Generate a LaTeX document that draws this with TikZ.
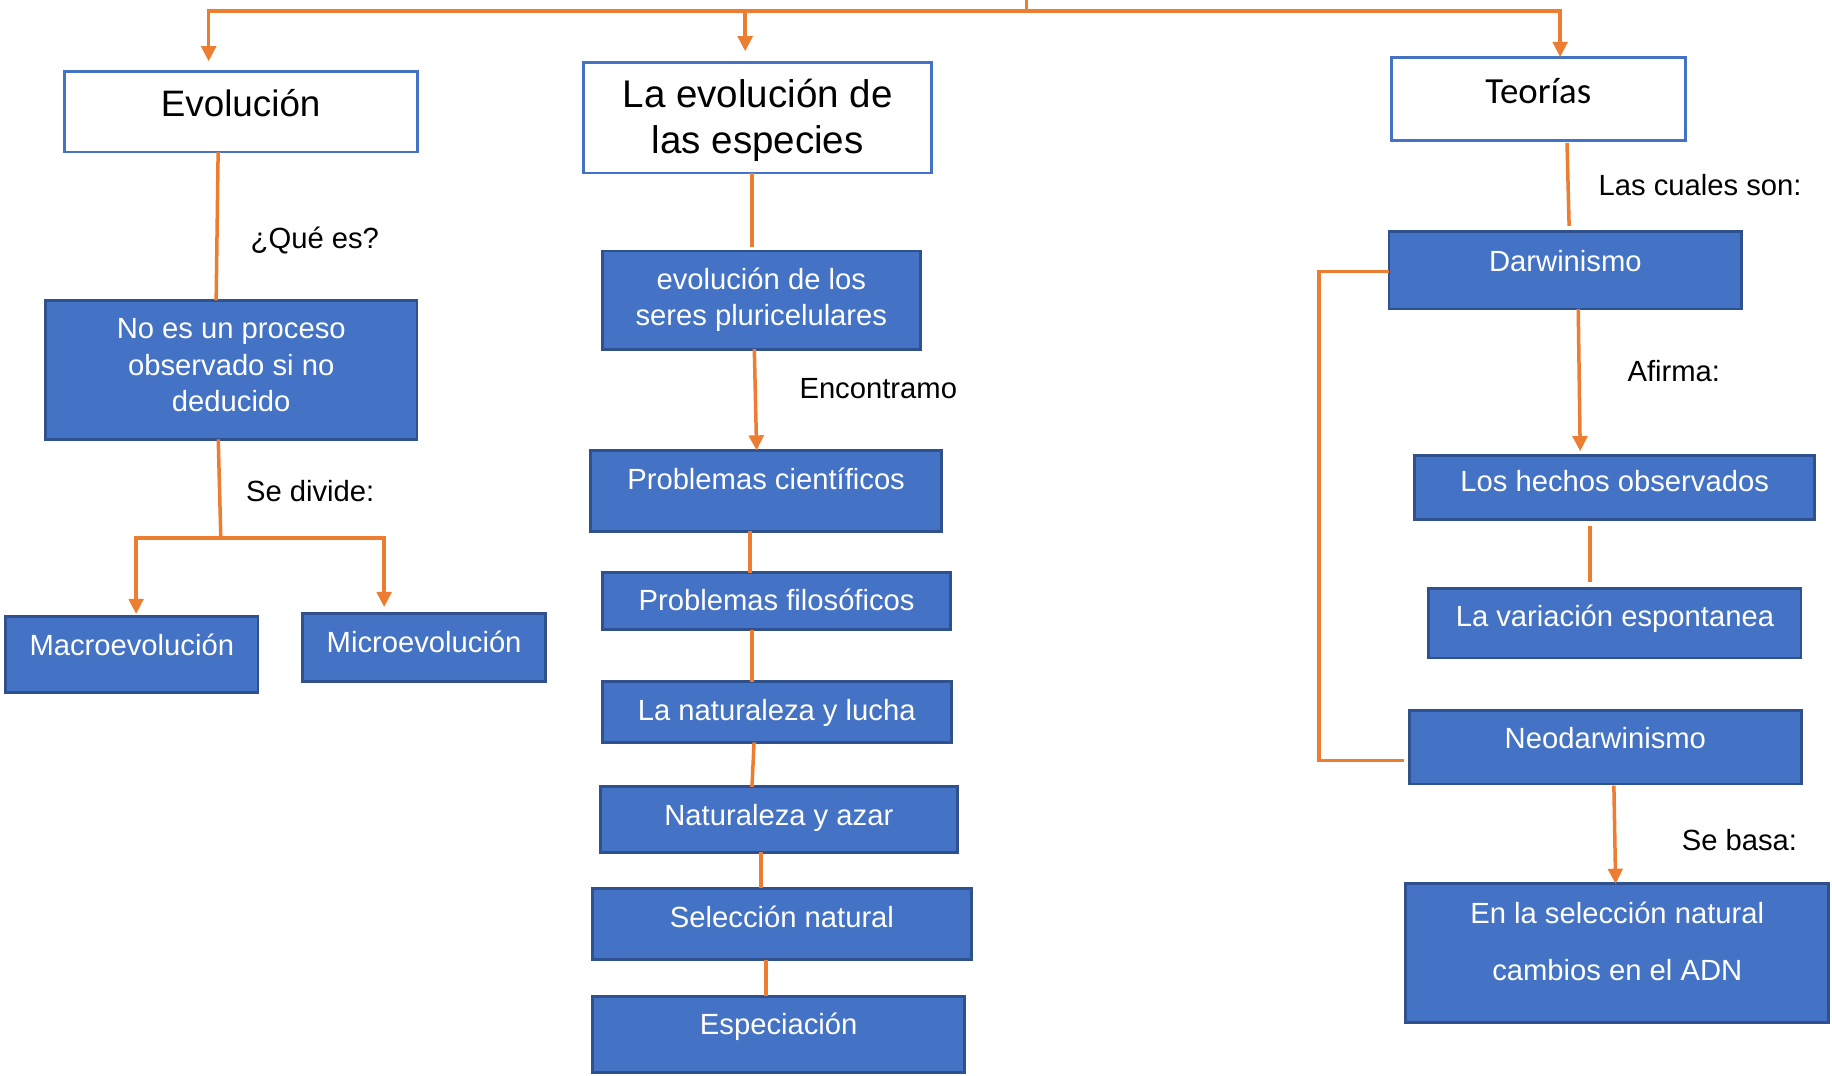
\documentclass[tikz,border=0pt]{standalone}
\usepackage{fontspec}
\usetikzlibrary{arrows.meta,calc}
\newfontfamily\arialf{Liberation Sans}
\newfontfamily\calibf{Carlito}
\newcommand\fsz[2]{\fontsize{#1}{#2}\selectfont}
\newcommand\tx[2]{\raisebox{#1pt}[0pt][0pt]{\begin{tabular}[b]{@{}c@{}}#2\end{tabular}}}
\definecolor{boxfill}{HTML}{4472C4}
\definecolor{boxline}{HTML}{2F528F}
\definecolor{orange1}{HTML}{ED7D31}
\tikzset{
  basebox/.style={rectangle, inner sep=0pt, outer sep=0pt, line width=2.5pt},
  bluebox/.style={basebox, fill=boxfill, draw=boxline, text=white, font={\arialf\fsz{25}{30.5}}},
  whitebox/.style={basebox, fill=white, draw=boxfill, text=black},
  sz/.style 2 args={minimum width=#1pt, minimum height=#2pt},
  conn/.style={draw=orange1, line width=3pt},
  arr/.style={conn, -{Triangle[width=12.5pt,length=13pt]}},
  lbl/.style={anchor=base west, inner sep=0pt, outer sep=0pt, text=black, font={\arialf\fsz{25}{30}}},
}
\begin{document}
\begin{tikzpicture}[x=1pt,y=-1pt]
\fill[white] (0,0) rectangle (1568,920.9);
\useasboundingbox (0,0) rectangle (1568,920.9);

% ---- top headings
\node[whitebox, sz={302}{69}, font={\arialf\fsz{31.5}{36}}] (evol) at (206,95.6) {\tx{-4.3}{Evolución}};
\node[whitebox, sz={298}{95}, font={\arialf\fsz{33}{39.8}}] (esp) at (648.5,100.6) {\tx{-30.9}{La evolución de\\las especies}};
\node[whitebox, sz={252}{71.5}, font={\calibf\fsz{31.5}{36}}] (teor) at (1316.6,84.6) {\tx{-3.8}{Teorías}};

% ---- left column
\node[bluebox, sz={318}{119}, font={\arialf\fsz{25}{31.4}}] (noes) at (197.9,316.6) {\tx{-35.8}{No es un proceso\\observado si no\\deducido}};
\node[bluebox, sz={216}{65}] (macro) at (112.8,560.5) {\tx{-0.3}{Macroevolución}};
\node[bluebox, sz={208}{58}] (micro) at (363,554.2) {\tx{-4.4}{Microevolución}};

% ---- middle column
\node[bluebox, sz={272.5}{84}, font={\arialf\fsz{25}{31.2}}] (seres) at (651.6,256.8) {\tx{-22}{evolución de los\\seres pluricelulares}};
\node[bluebox, sz={300}{69}] (pc) at (655.7,420.1) {\tx{1.3}{Problemas científicos}};
\node[bluebox, sz={298}{49}] (pf) at (664.7,514.5) {\tx{-8}{Problemas filosóficos}};
\node[bluebox, sz={298.5}{52}] (nl) at (664.8,609.4) {\tx{-7.2}{La naturaleza y lucha}};
\node[bluebox, sz={306}{56}] (na) at (666.6,701.5) {\tx{-5.2}{Naturaleza y azar}};
\node[bluebox, sz={324}{61}] (sn) at (669.3,790.8) {\tx{-2.7}{Selección natural}};
\node[bluebox, sz={318}{65}] (espc) at (666.5,885.2) {\tx{0}{Especiación}};

% ---- right column
\node[bluebox, sz={302}{66}] (darw) at (1339.8,231.5) {\tx{-1}{Darwinismo}};
\node[bluebox, sz={342}{55}] (hechos) at (1382,417.1) {\tx{-3.7}{Los hechos observados}};
\node[bluebox, sz={318.5}{59.5}] (var) at (1382.2,533.4) {\tx{-3}{La variación espontanea}};
\node[bluebox, sz={335}{63}] (neo) at (1374,639.5) {\tx{-1}{Neodarwinismo}};
\node[bluebox, sz={362}{119}, font={\arialf\fsz{25}{49.1}}] (enla) at (1384.2,816) {\tx{-23.4}{En la selección natural\\cambios en el ADN}};

% ---- labels
\node[lbl] (lq) at (214.6,212.6) {¿Qué es?};
\node[lbl] (ld) at (210.6,429.5) {Se divide:};
\node[lbl] (le) at (684.3,340.9) {Encontramo};
\node[lbl] (lc) at (1368.2,166.9) {Las cuales son:};
\node[lbl] (la) at (1393,326.7) {Afirma:};
\node[lbl] (lb) at (1439.4,728.1) {Se basa:};

% ---- top distributor
\coordinate (stub) at (878.4,-3);
\coordinate (hub) at (878.4,9.5);
\draw[conn] (stub) -- (hub);
\draw[arr] (hub) -| ($(evol.north)+(-27.4,-8.6)$);
\draw[arr] (hub) -| ($(esp.north)+(-10.7,-9.2)$);
\draw[arr] (hub) -| ($(teor.north)+(18.7,0)$);

% ---- left connectors
\draw[conn] ($(evol.south)+(-19.3,0)$) -- ($(noes.north)+(-12.9,0)$);
\coordinate (br) at (189,460.5);
\draw[conn] ($(noes.south)+(-11.1,0)$) -- (br);
\draw[arr] (br) -| ($(macro.north)+(3.7,-2.5)$);
\draw[arr] (br) -| ($(micro.north)+(-34.2,-5.6)$);

% ---- middle connectors
\draw[conn] ($(esp.south)+(-4.9,0)$) -- ($(seres.north)+(-8,-3.7)$);
\draw[arr] ($(seres.south)+(-6,0)$) -- ($(pc.north)+(-8.1,0)$);
\draw[conn] ($(pc.south)+(-13.6,0)$) -- ($(pf.north)+(-22.6,0)$);
\draw[conn] ($(pf.south)+(-20.9,0)$) -- ($(nl.north)+(-21,0)$);
\draw[conn] ($(nl.south)+(-19.4,0)$) -- ($(na.north)+(-23,0)$);
\draw[conn] ($(na.south)+(-15.3,0)$) -- ($(sn.north)+(-18,0)$);
\draw[conn] ($(sn.south)+(-13.7,0)$) -- ($(espc.north)+(-10.9,0)$);

% ---- right connectors
\draw[conn] ($(teor.south)+(24.6,2)$) -- ($(darw.north)+(3.2,-5.1)$);
\draw[conn] ($(darw.west)+(0,1)$) -- ++(-60,0) |- ($(neo.west)+(-5,11.5)$);
\draw[arr] ($(darw.south)+(11,0)$) -- ($(hechos.north)+(-29.5,-3.4)$);
\draw[conn] ($(hechos.south)+(-21,5.7)$) -- ($(var.north)+(-21.2,-5.7)$);
\draw[arr] ($(neo.south)+(7.3,1.4)$) -- ($(enla.north)+(-1.4,0)$);
\end{tikzpicture}
\end{document}
